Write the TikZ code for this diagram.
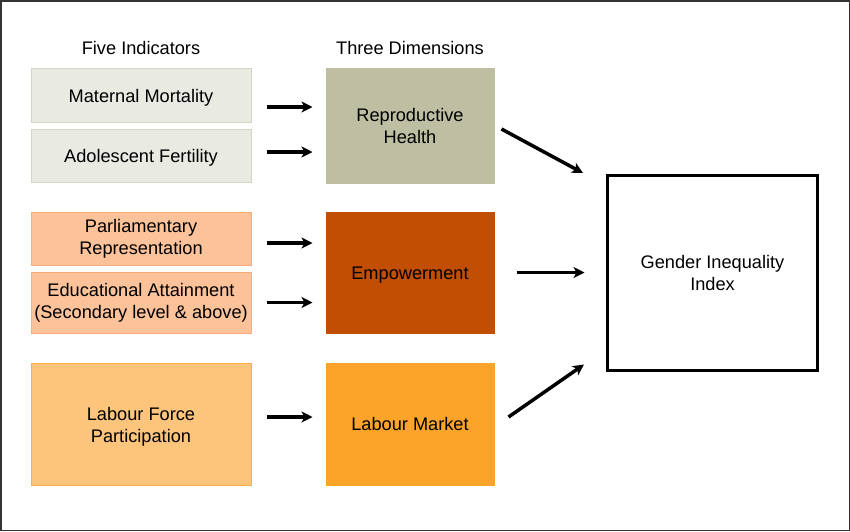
\documentclass[tikz,border=0pt]{standalone}
\usepackage{fontspec}
\setmainfont{Liberation Sans}
\usetikzlibrary{arrows.meta}
\definecolor{grayfill}{HTML}{E9EAE1}
\definecolor{grayline}{HTML}{D3D6C4}
\definecolor{khaki}{HTML}{BEBEA2}
\definecolor{salmon}{HTML}{FCC29A}
\definecolor{salmonline}{HTML}{F8AB7C}
\definecolor{rust}{HTML}{C24E04}
\definecolor{lightorange}{HTML}{FDC47B}
\definecolor{lightorangeline}{HTML}{F9AE4B}
\definecolor{orangefill}{HTML}{FCA42A}
\begin{document}
\begin{tikzpicture}[x=1pt,y=-1pt,
  txt/.style={font=\fontsize{18.2}{22}\selectfont, align=center, text=black},
  box/.style={draw, line width=1pt, inner sep=0pt},
  boxtext/.style={label={[txt]center:#1}},
  lowtext/.style={label={[txt,yshift=-2.5pt]center:#1}},
  arr/.style={line width=3.5pt, -{Stealth[length=11pt,width=11pt,inset=3pt]}}]
\useasboundingbox (0,0) rectangle (850,531);
\draw[line width=1.5pt, black!80] (0.75,0.75) rectangle (849.25,530.25);

\node[txt] (h1) at (141,48) {Five Indicators};
\node[txt] (h2) at (410,48) {Three Dimensions};

\node[box, fill=grayfill, draw=grayline, minimum width=220pt, minimum height=54pt, lowtext={Maternal Mortality}] (mm) at (141,95) {};
\node[box, fill=grayfill, draw=grayline, minimum width=220pt, minimum height=53pt, lowtext={Adolescent Fertility}] (af) at (141,155.5) {};
\node[box, fill=salmon, draw=salmonline, minimum width=220pt, minimum height=53pt, boxtext={Parliamentary\\Representation}] (pr) at (141,238.5) {};
\node[box, fill=salmon, draw=salmonline, minimum width=220pt, minimum height=61pt, boxtext={Educational Attainment\\(Secondary level \& above)}] (ea) at (141,302.5) {};
\node[box, fill=lightorange, draw=lightorangeline, minimum width=220pt, minimum height=122pt, lowtext={Labour Force\\Participation}] (lf) at (141,424) {};

\node[box, fill=khaki, draw=khaki, minimum width=168pt, minimum height=115pt, boxtext={Reproductive\\Health}] (rh) at (410,125.5) {};
\node[box, fill=rust, draw=rust, minimum width=168pt, minimum height=121pt, lowtext={Empowerment}] (em) at (410,272.5) {};
\node[box, fill=orangefill, draw=orangefill, minimum width=168pt, minimum height=122pt, boxtext={Labour Market}] (lm) at (410,424) {};

\node[box, draw=black, line width=3pt, minimum width=210pt, minimum height=195pt, boxtext={Gender Inequality\\Index}] (gii) at (712.5,273) {};

\draw[arr] ([xshift=15pt,yshift=-12pt]mm.east) -- ++(46,0);
\draw[arr] ([xshift=15pt,yshift=3.5pt]af.east) -- ++(46,0);
\draw[arr] ([xshift=15pt,yshift=-4.5pt]pr.east) -- ++(46,0);
\draw[arr] ([xshift=15pt]ea.east) -- ++(46,0);
\draw[arr] ([xshift=15pt,yshift=7pt]lf.east) -- ++(46,0);

\draw[arr] ([xshift=7pt,yshift=-3.5pt]rh.east) -- ([xshift=-23pt,yshift=1pt]gii.north west);
\draw[arr] ([xshift=22pt]em.east) -- ++(68,0);
\draw[arr] ([xshift=14pt,yshift=7pt]lm.east) -- ([xshift=-22pt,yshift=7.5pt]gii.south west);
\end{tikzpicture}
\end{document}
